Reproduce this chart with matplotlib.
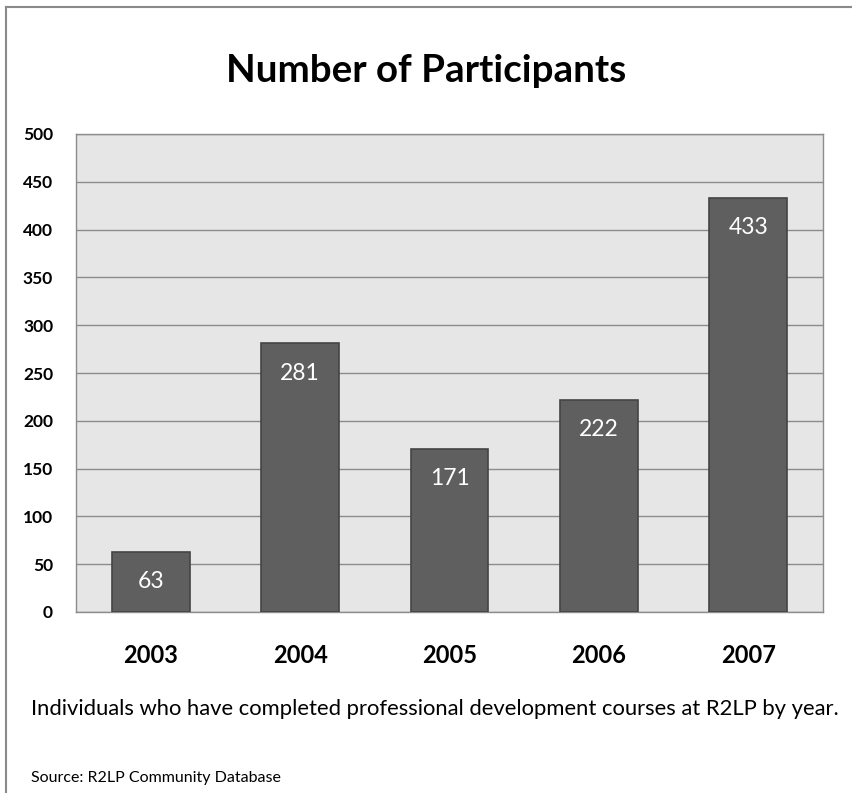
import numpy as np
import matplotlib.pyplot as plt
from matplotlib.lines import Line2D

years = ["2003", "2004", "2005", "2006", "2007"]
participants = [63, 281, 171, 222, 433]
yticks = [0, 50, 100, 150, 200, 250, 300, 350, 400, 450, 500]

plt.rcParams["font.family"] = ["Lato", "DejaVu Sans"]

W, H = 853, 793
fig = plt.figure(figsize=(W / 100, H / 100), dpi=100)
fig.patch.set_facecolor("white")

# frame around the whole figure (left and top edges)
fig.add_artist(Line2D([6 / W, 6 / W], [0.0, 1 - 7 / H], color="#8a8a8a", lw=1.5, transform=fig.transFigure))
fig.add_artist(Line2D([6 / W, 1.0], [1 - 7 / H, 1 - 7 / H], color="#8a8a8a", lw=1.5, transform=fig.transFigure))

# plot area: x 76..823 px, y 134..612 px
ax = fig.add_axes([76 / W, 1 - 612 / H, 747 / W, 478 / H])
ax.set_facecolor("#e6e6e6")

x = np.arange(len(years))
bars = ax.bar(x, participants, width=0.52, color="#5f5f5f", edgecolor="#444444", linewidth=1.2, zorder=3)

for b, v in zip(bars, participants):
    ax.annotate(str(v), (b.get_x() + b.get_width() / 2, v), xytext=(0, -21.5),
                textcoords="offset points", ha="center", va="center",
                color="white", fontsize=16.5, zorder=4)

ax.set_xlim(-0.5, len(years) - 0.5)
ax.set_ylim(0, 500)
ax.set_yticks(yticks)
ax.set_yticklabels([str(t) for t in yticks], fontsize=12.5, fontweight="bold")
ax.set_xticks(x)
ax.set_xticklabels(years, fontsize=17, fontweight="bold")
ax.tick_params(axis="both", length=0)
ax.tick_params(axis="y", pad=16.5)
ax.tick_params(axis="x", pad=23)
ax.yaxis.grid(True, color="#8c8c8c", lw=1.0, zorder=1)
ax.set_axisbelow(True)
for s in ax.spines.values():
    s.set_color("#8c8c8c")
    s.set_linewidth(1.0)

fig.text(0.5, 1 - 82 / H, "Number of Participants", ha="center", va="baseline",
         fontsize=27.7, fontweight="bold")
fig.text(31 / W, 1 - 715 / H, "Individuals who have completed professional development courses at R2LP by year.",
         ha="left", va="baseline", fontsize=15.8)
fig.text(31 / W, 1 - 778 / H, "Source: R2LP Community Database", ha="left", va="center", fontsize=11.5)

fig.savefig("out.png", dpi=100)
